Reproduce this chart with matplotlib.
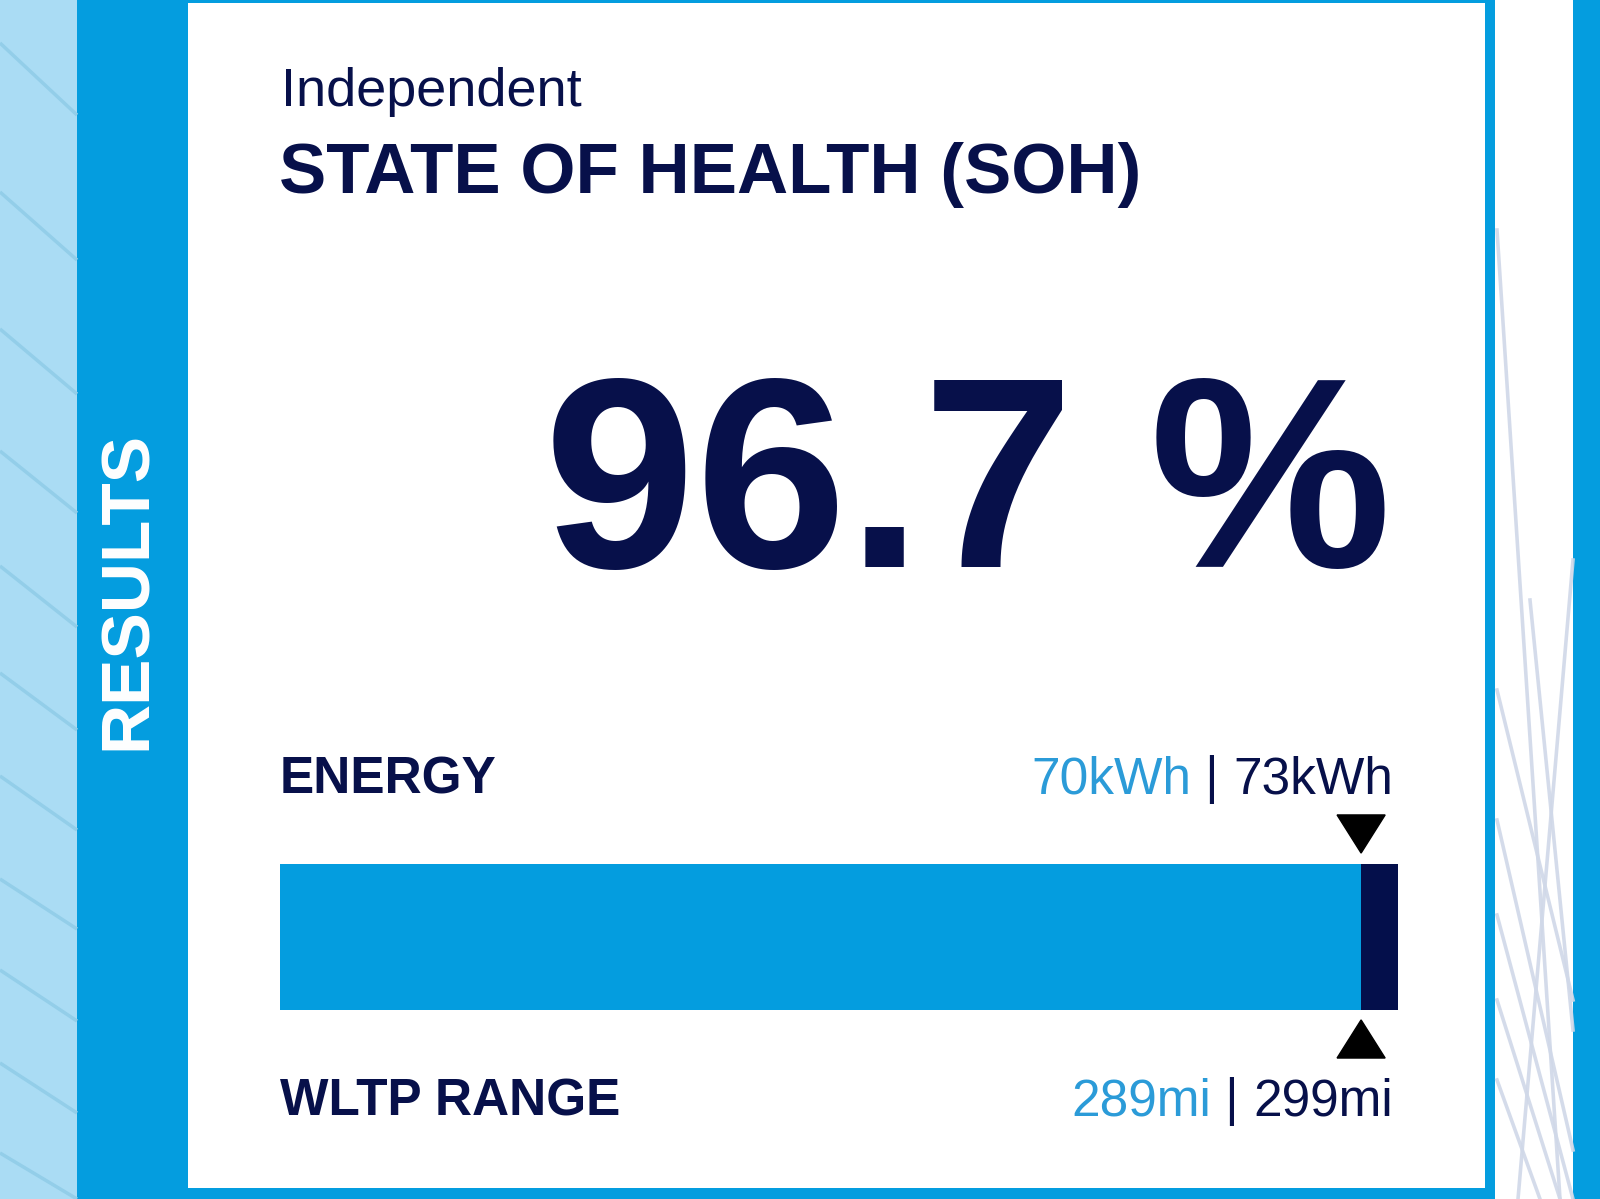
import matplotlib
matplotlib.use("Agg")
import matplotlib.pyplot as plt
from matplotlib.patches import Rectangle, Polygon

plt.rcParams['font.family'] = ['Liberation Sans', 'DejaVu Sans']

# values shown on the card
soh_pct = 96.7
energy_now, energy_new = 70, 73
range_now, range_new = 289, 299
kicker = "Independent"
title = "STATE OF HEALTH (SOH)"
side_label = "RESULTS"
row_labels = ["ENERGY", "WLTP RANGE"]
row_now = [f"{energy_now}kWh", f"{range_now}mi"]
row_new = [f"{energy_new}kWh", f"{range_new}mi"]

NAVY = "#07104a"
BLUE = "#049ddf"
LIGHT = "#aadcf4"
TXT_BLUE = "#2b9bd8"

W, H = 1600, 1199
fig = plt.figure(figsize=(W / 100, H / 100), dpi=100)
bg = fig.add_axes([0, 0, 1, 1])
bg.set_xlim(0, W)
bg.set_ylim(H, 0)
bg.axis('off')

# page background pieces
bg.add_patch(Rectangle((0, 0), 77, H, color=LIGHT, lw=0))
bg.add_patch(Rectangle((77, 0), 1495 - 77, H, color=BLUE, lw=0))
bg.add_patch(Rectangle((188, 3), 1485 - 188, 1188 - 3, color="white", lw=0))
bg.add_patch(Rectangle((1495, 0), 1573 - 1495, H, color="white", lw=0))
bg.add_patch(Rectangle((1573, 0), W - 1573, H, color=BLUE, lw=0))

# diagonal stripes in the light strip (left y, right y)
left_stripes = [(43, 115), (192, 260), (329, 394), (451, 513), (566, 627),
                (673, 730), (776, 830), (879, 929), (970, 1021), (1063, 1113),
                (1153, 1199)]
for y0, y1 in left_stripes:
    bg.plot([0, 77], [y0, y1], color="#93cee9", lw=2.5, solid_capstyle='butt')

# faint crossing lines on the right margin
right_lines = [((1497, 230), (1560, 1199)), ((1573, 560), (1518, 1199)),
               ((1530, 600), (1573, 1030)), ((1497, 690), (1573, 1000)),
               ((1497, 820), (1573, 1150)), ((1497, 915), (1573, 1199)),
               ((1497, 1000), (1560, 1199)), ((1497, 1080), (1540, 1199))]
for (xa, ya), (xb, yb) in right_lines:
    bg.plot([xa, xb], [ya, yb], color="#d0d8e8", lw=2.6, alpha=0.9)

# texts
bg.text(128, 590, side_label, rotation=90, color="white", fontsize=50,
        fontweight='bold', ha='center', va='center')
bg.text(281, 106, kicker, color=NAVY, fontsize=39, va='baseline')
bg.text(279, 193, title, color=NAVY, fontsize=51, fontweight='bold', va='baseline')
bg.text(1392, 567, f"{soh_pct} %", color=NAVY, fontsize=196, fontweight='bold',
        ha='right', va='baseline')

for i, base in enumerate([793, 1115]):
    bg.text(280, base, row_labels[i], color=NAVY, fontsize=37, fontweight='bold',
            va='baseline')
    t = bg.text(1393, base, row_new[i], color=NAVY, fontsize=37, ha='right',
                va='baseline')
    sep = bg.annotate(" | ", xy=(0, 0), xycoords=t, color=NAVY, fontsize=37,
                      ha='right', va='bottom')
    bg.annotate(row_now[i], xy=(0, 0), xycoords=sep, color=TXT_BLUE, fontsize=37,
                ha='right', va='bottom')

# the bar itself
ax = fig.add_axes([280 / W, 1 - 1010 / H, 1118 / W, 146 / H])
ax.barh(0, soh_pct, height=1, color=BLUE, lw=0)
ax.barh(0, 100 - soh_pct, left=soh_pct, height=1, color="#040f4b", lw=0)
ax.set_xlim(0, 100)
ax.set_ylim(-0.5, 0.5)
ax.axis('off')

tr = ax.get_xaxis_transform()
hw = 2.15
ax.add_patch(Polygon([(soh_pct - hw, 1.336), (soh_pct + hw, 1.336), (soh_pct, 1.075)],
                     closed=True, color="black", transform=tr, clip_on=False))
ax.add_patch(Polygon([(soh_pct - hw, -0.329), (soh_pct + hw, -0.329), (soh_pct, -0.068)],
                     closed=True, color="black", transform=tr, clip_on=False))

fig.savefig("out.png", dpi=100)
